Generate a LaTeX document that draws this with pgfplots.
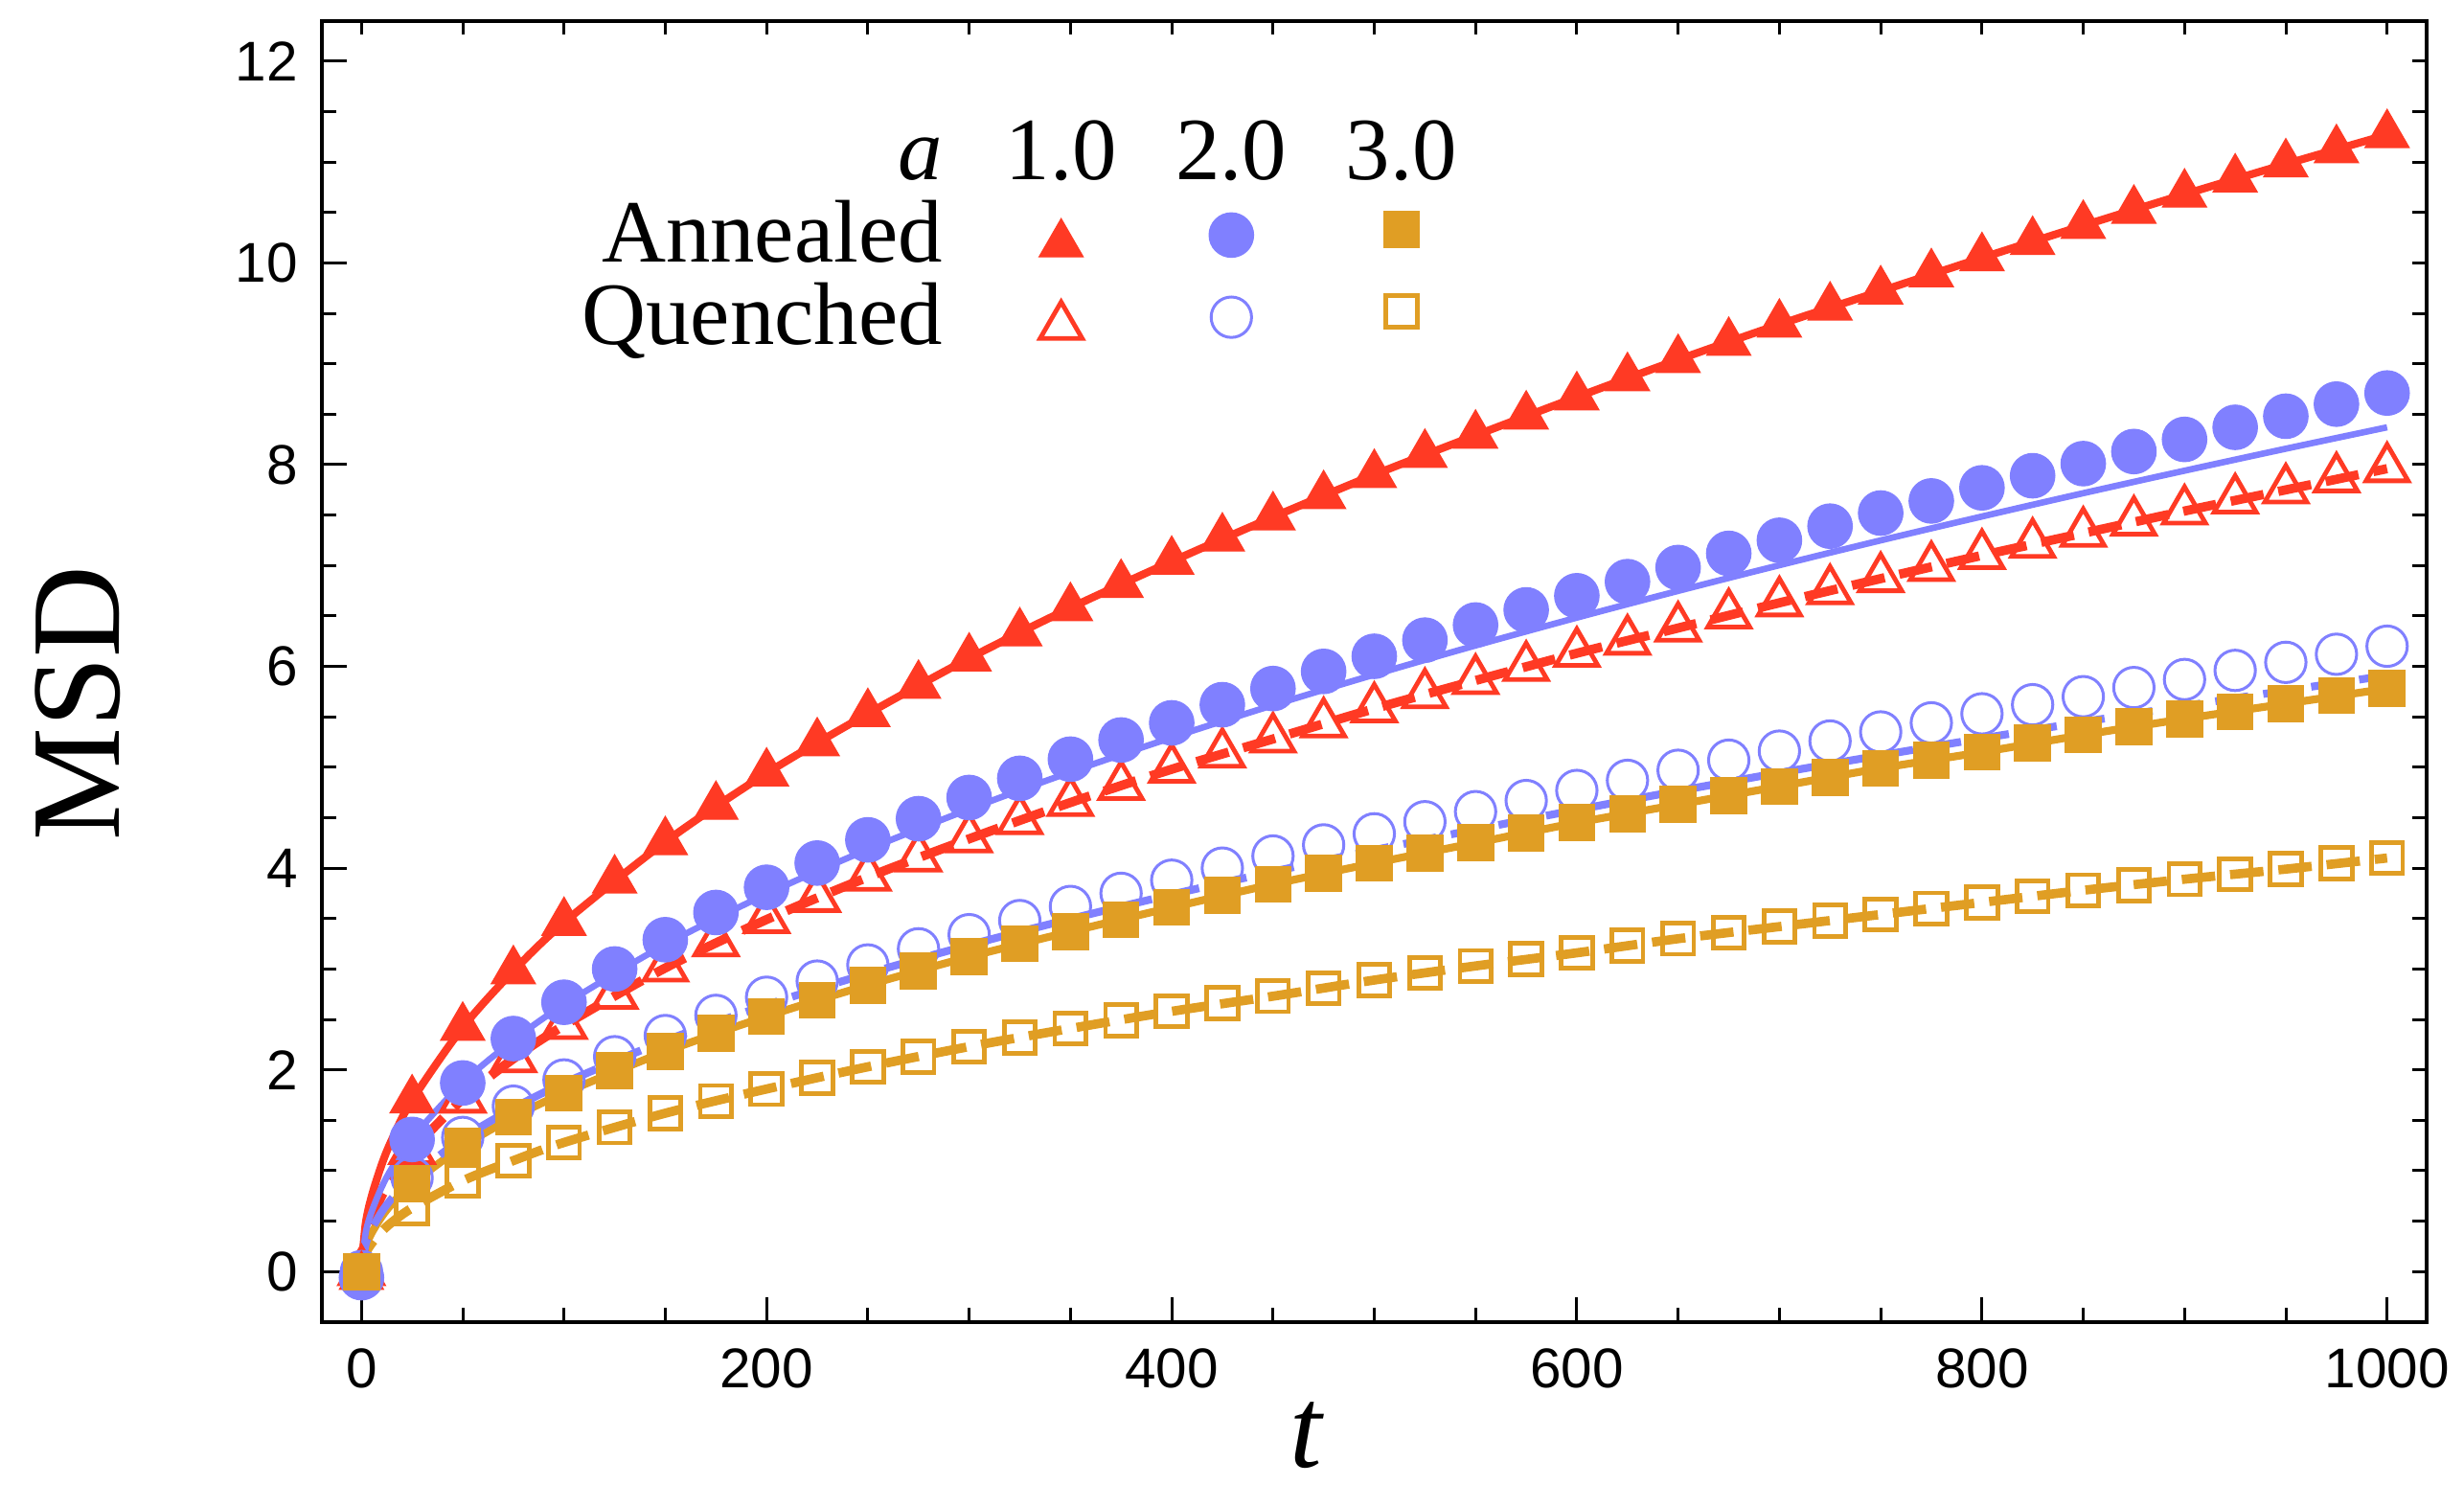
\documentclass[border=0pt]{standalone}
\usepackage{fontspec}
\setmainfont{Liberation Serif}
\newfontfamily\sansfont{Liberation Sans}
\usepackage{pgfplots}
\usepackage{pgfplotstable}
\pgfplotsset{compat=1.18}

\definecolor{cR}{RGB}{255,58,36}
\definecolor{cB}{RGB}{128,128,255}
\definecolor{cO}{RGB}{224,158,36}

% simulation points
\pgfplotstableread{
t    A1    A2    Q1    Q2    A3    Q3
0    -0.05 -0.06 0     0     0     0
25   1.70  1.31  1.20  0.93  0.87  0.63
50   2.42  1.87  1.71  1.33  1.24  0.90
75   2.98  2.31  2.11  1.64  1.53  1.10
100  3.46  2.67  2.44  1.90  1.77  1.28
125  3.88  3.00  2.74  2.13  1.99  1.43
150  4.26  3.29  3.01  2.34  2.18  1.57
175  4.61  3.56  3.26  2.54  2.36  1.69
200  4.94  3.81  3.49  2.72  2.53  1.81
225  5.24  4.05  3.70  2.88  2.69  1.92
250  5.53  4.28  3.91  3.04  2.84  2.03
275  5.81  4.49  4.10  3.20  2.98  2.13
300  6.08  4.70  4.29  3.34  3.12  2.23
325  6.33  4.89  4.47  3.48  3.25  2.32
350  6.58  5.08  4.65  3.62  3.37  2.41
375  6.81  5.27  4.81  3.75  3.49  2.49
400  7.04  5.44  4.98  3.88  3.61  2.58
425  7.27  5.62  5.13  4.00  3.73  2.66
450  7.48  5.78  5.28  4.12  3.84  2.73
475  7.69  5.95  5.43  4.23  3.95  2.81
500  7.90  6.10  5.58  4.34  4.05  2.89
525  8.10  6.26  5.72  4.46  4.15  2.96
550  8.29  6.41  5.86  4.56  4.25  3.03
575  8.48  6.56  5.99  4.67  4.35  3.10
600  8.67  6.70  6.13  4.77  4.45  3.16
625  8.86  6.84  6.25  4.87  4.54  3.23
650  9.04  6.98  6.38  4.97  4.63  3.30
675  9.21  7.12  6.51  5.07  4.72  3.36
700  9.39  7.25  6.63  5.16  4.81  3.42
725  9.56  7.39  6.75  5.26  4.90  3.48
750  9.72  7.52  6.87  5.35  4.99  3.54
775  9.89  7.64  6.98  5.44  5.07  3.60
800  10.05 7.77  7.10  5.53  5.15  3.66
825  10.21 7.89  7.21  5.62  5.24  3.72
850  10.37 8.01  7.32  5.70  5.32  3.78
875  10.52 8.13  7.43  5.79  5.40  3.83
900  10.68 8.25  7.54  5.87  5.48  3.89
925  10.83 8.37  7.65  5.96  5.55  3.94
950  10.98 8.48  7.75  6.04  5.63  3.99
975  11.12 8.60  7.86  6.12  5.71  4.05
1000 11.27 8.71  7.96  6.20  5.78  4.10
}\marks

% fitted curves
\pgfplotstableread{
t    LA1   LA2   LQ1   LQ2   LA3   LQ3
0    0     0     0     0     0     0
2    0.465 0.374 0.328 0.264 0.238 0.176
5    0.744 0.592 0.525 0.418 0.381 0.279
10   1.061 0.837 0.750 0.591 0.544 0.397
15   1.307 1.025 0.923 0.724 0.670 0.488
25   1.70  1.323 1.20  0.934 0.87  0.63
50   2.42  1.872 1.71  1.322 1.24  0.90
75   2.98  2.292 2.11  1.619 1.53  1.10
100  3.46  2.647 2.44  1.869 1.77  1.28
150  4.26  3.242 3.01  2.289 2.18  1.57
200  4.94  3.743 3.49  2.643 2.53  1.81
250  5.53  4.185 3.91  2.955 2.84  2.03
300  6.08  4.584 4.29  3.237 3.12  2.23
350  6.58  4.952 4.65  3.496 3.37  2.41
400  7.04  5.294 4.98  3.738 3.61  2.58
450  7.48  5.615 5.28  3.965 3.84  2.73
500  7.90  5.918 5.58  4.179 4.05  2.89
550  8.29  6.207 5.86  4.383 4.25  3.03
600  8.67  6.483 6.13  4.578 4.45  3.16
650  9.04  6.748 6.38  4.765 4.63  3.30
700  9.39  7.003 6.63  4.945 4.81  3.42
750  9.72  7.249 6.87  5.118 4.99  3.54
800  10.05 7.486 7.10  5.286 5.15  3.66
850  10.37 7.717 7.32  5.449 5.32  3.78
900  10.68 7.940 7.54  5.607 5.48  3.89
950  10.98 8.158 7.75  5.760 5.63  3.99
1000 11.27 8.37  7.96  5.91  5.78  4.10
}\fits

% fixed-size legend cells; symbols and headers do not enlarge them
\newcommand\legbox{\path[draw=none,fill=none] (-0.723cm,-0.25cm) rectangle (0.278cm,0.25cm);}
\newcommand\legmark[2]{\legbox\begin{pgfinterruptboundingbox}\draw[only marks,#1] plot coordinates {(0cm,#2)};\end{pgfinterruptboundingbox}}
\newcommand\leghead[1]{\legbox\begin{pgfinterruptboundingbox}\node[anchor=base,inner sep=0pt] at (0cm,0cm) {#1};\end{pgfinterruptboundingbox}}
\newcommand\tickfont{\sansfont\fontsize{9.7}{11}\selectfont}

\pgfplotsset{
  frame/.style={
    scale only axis, width=12.813cm, height=7.921cm,
    xmin=-19.5, xmax=1019.5, ymin=-0.5, ymax=12.4,
    axis line style={line width=0.7pt},
    tick align=inside,
    tick style={line width=0.5pt, black},
  },
  dashfit/.style={dash pattern=on 5.8pt off 2.6pt},
}

\begin{document}
\begin{tikzpicture}
\begin{axis}[
  frame, name=main,
  tick pos=left,
  xtick={0,200,...,1000}, minor x tick num=3,
  ytick={0,2,...,12}, minor y tick num=3,
  major tick length=0.15cm, minor tick length=0.085cm,
  tick label style={font=\tickfont},
  /pgf/number format/assume math mode=true,
  /pgf/number format/1000 sep={},
  xticklabel style={yshift=-1pt},
  yticklabel style={xshift=-0.7pt},
  xlabel={\textit{t}},
  ylabel={MSD},
  xlabel style={font=\fontsize{20}{24}\selectfont, inner sep=0pt, at={(axis description cs:0.468,-0.087)}, anchor=center},
  ylabel style={font=\fontsize{22}{26}\selectfont, at={(axis description cs:-0.1159,0.4756)}, anchor=center},
  legend columns=4,
  legend cell align=right,
  legend style={draw=none, fill=none, inner sep=0pt, outer sep=0pt,
    font=\fontsize{15.4}{18}\selectfont,
    at={(axis description cs:0.5374,0.9092)}, anchor=north east,
    nodes={inner sep=0pt, text height=0.25cm, text depth=0.25cm},
    column sep=0pt, row sep=0pt},
]
% markers, open ones first
\addplot[forget plot, only marks, mark=triangle, mark size=4.2pt, color=cR, mark options={line width=0.8pt}] table[x=t,y=Q1]{\marks};
\addplot[forget plot, only marks, mark=o, mark size=3.5pt, color=cB, mark options={line width=0.5pt}] table[x=t,y=Q2]{\marks};
\addplot[forget plot, only marks, mark=square, mark size=2.7pt, color=cO, mark options={line width=0.8pt}] table[x=t,y=Q3]{\marks};
\addplot[forget plot, only marks, mark=triangle*, mark size=4.4pt, color=cR, mark options={line width=0.2pt}] table[x=t,y=A1]{\marks};
\addplot[forget plot, only marks, mark=*, mark size=3.85pt, color=cB, mark options={line width=0.2pt}] table[x=t,y=A2]{\marks};
\addplot[forget plot, only marks, mark=square*, mark size=3.1pt, color=cO, mark options={line width=0.2pt}] table[x=t,y=A3]{\marks};

% fits
\addplot[forget plot, smooth, no markers, color=cO, line width=1.6pt, dashfit] table[x=t,y=LQ3]{\fits};
\addplot[forget plot, smooth, no markers, color=cO, line width=1.35pt] table[x=t,y=LA3]{\fits};
\addplot[forget plot, smooth, no markers, color=cR, line width=1.6pt, dashfit] table[x=t,y=LQ1]{\fits};
\addplot[forget plot, smooth, no markers, color=cR, line width=1.35pt] table[x=t,y=LA1]{\fits};
\addplot[forget plot, smooth, no markers, color=cB, line width=1.35pt, dashfit] table[x=t,y=LQ2]{\fits};
\addplot[forget plot, smooth, no markers, color=cB, line width=1.1pt] table[x=t,y=LA2]{\fits};

% legend table
\addlegendimage{empty legend}\addlegendentry{\textit{a}}
\addlegendimage{legend image code/.code={\leghead{1.0}}}\addlegendentry{}
\addlegendimage{legend image code/.code={\leghead{2.0}}}\addlegendentry{}
\addlegendimage{legend image code/.code={\leghead{3.0}}}\addlegendentry{}
\addlegendimage{empty legend}\addlegendentry{Annealed}
\addlegendimage{legend image code/.code={\legmark{mark=triangle*,mark size=4.4pt,color=cR,mark options={line width=0.2pt}}{0.11cm}}}\addlegendentry{}
\addlegendimage{legend image code/.code={\legmark{mark=*,mark size=3.85pt,color=cB,mark options={line width=0.2pt}}{0.165cm}}}\addlegendentry{}
\addlegendimage{legend image code/.code={\legmark{mark=square*,mark size=3.1pt,color=cO,mark options={line width=0.2pt}}{0.2cm}}}\addlegendentry{}
\addlegendimage{empty legend}\addlegendentry{Quenched}
\addlegendimage{legend image code/.code={\legmark{mark=triangle,mark size=4.2pt,color=cR,mark options={line width=0.8pt}}{0.11cm}}}\addlegendentry{}
\addlegendimage{legend image code/.code={\legmark{mark=o,mark size=3.5pt,color=cB,mark options={line width=0.5pt}}{0.165cm}}}\addlegendentry{}
\addlegendimage{legend image code/.code={\legmark{mark=square,mark size=2.7pt,color=cO,mark options={line width=0.8pt}}{0.2cm}}}\addlegendentry{}
\end{axis}

% small ticks on the top and right sides
\begin{axis}[
  frame,
  tick pos=right,
  xtick={0,50,...,1000}, ytick={0,0.5,...,12},
  xticklabels={}, yticklabels={},
  major tick length=0.085cm,
]
\end{axis}

\pgfresetboundingbox
\path[use as bounding box] ([shift={(-1.96cm,-0.991cm)}]main.south west) rectangle ([shift={(0.228cm,0.127cm)}]main.north east);
\end{tikzpicture}
\end{document}
